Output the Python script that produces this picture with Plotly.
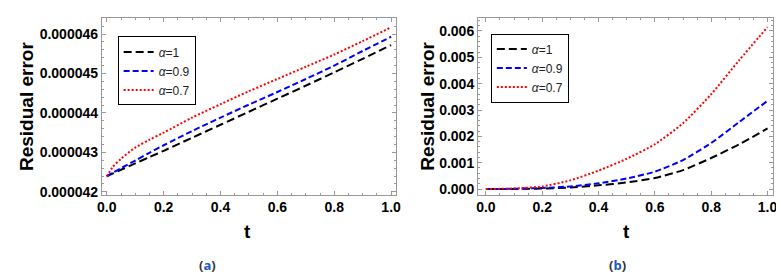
import plotly.graph_objects as go

W, H = 784, 278

# ---- data ----
t_a = [0.0, 0.02, 0.05, 0.1, 0.15, 0.2, 0.3, 0.4, 0.5, 0.6, 0.7, 0.8, 0.9, 1.0]
a_alpha1 = [42.39, 42.46, 42.56, 42.72, 42.88, 43.04, 43.37, 43.70, 44.03, 44.36, 44.69, 45.03, 45.37, 45.72]
a_alpha09 = [42.39, 42.48, 42.60, 42.79, 42.99, 43.18, 43.54, 43.88, 44.21, 44.53, 44.86, 45.20, 45.57, 45.93]
a_alpha07 = [42.39, 42.62, 42.84, 43.12, 43.32, 43.50, 43.88, 44.22, 44.55, 44.86, 45.17, 45.48, 45.82, 46.17]

t_b = [0.0, 0.1, 0.2, 0.3, 0.4, 0.5, 0.6, 0.7, 0.8, 0.9, 1.0]
b_alpha1 = [0.0, 0.005, 0.02, 0.06, 0.14, 0.25, 0.42, 0.72, 1.18, 1.70, 2.30]
b_alpha09 = [0.0, 0.01, 0.04, 0.10, 0.22, 0.40, 0.66, 1.10, 1.75, 2.55, 3.35]
b_alpha07 = [0.0, 0.02, 0.10, 0.33, 0.70, 1.15, 1.70, 2.50, 3.60, 4.90, 6.15]

legend_names = ["<i>α</i>=1", "<i>α</i>=0.9", "<i>α</i>=0.7"]
colors = ["black", "blue", "red"]
dashes = ["8px,4px", "6px,3px", "2px,2px"]
captions = ["a", "b"]

def px_x(v):
    return v / W

def px_y(v):
    return 1 - v / H

fig = go.Figure()

for vals, name, c, d in zip([a_alpha1, a_alpha09, a_alpha07], legend_names, colors, dashes):
    fig.add_trace(go.Scatter(x=t_a, y=[v * 1e-6 for v in vals], mode="lines", name=name,
                             line=dict(color=c, width=2, dash=d, shape="spline", smoothing=0.8),
                             xaxis="x", yaxis="y", legend="legend"))
for vals, name, c, d in zip([b_alpha1, b_alpha09, b_alpha07], legend_names, colors, dashes):
    fig.add_trace(go.Scatter(x=t_b, y=[v * 1e-3 for v in vals], mode="lines", name=name,
                             line=dict(color=c, width=2, dash=d, shape="spline", smoothing=0.6),
                             xaxis="x2", yaxis="y2", legend="legend2"))

tickfont = dict(family="Liberation Sans, Arial, sans-serif", size=14, color="black", weight="bold")
frame = dict(showline=True, linecolor="#999999", linewidth=1, mirror="allticks",
             ticks="inside", ticklen=4, tickcolor="#999999", showgrid=False, zeroline=False,
             tickfont=tickfont)

legfont = dict(family="Liberation Sans, Arial, sans-serif", size=12, color="#222222")

fig.update_layout(
    width=W, height=H, margin=dict(l=0, r=0, t=0, b=0),
    paper_bgcolor="white", plot_bgcolor="white",
    xaxis=dict(domain=[px_x(90), px_x(388)], range=[-0.0174, 1.0174], dtick=0.2, tick0=0,
               tickformat=".1f", anchor="y",
               minor=dict(dtick=0.05, ticks="inside", ticklen=2, tickcolor="#999999"), **frame),
    yaxis=dict(domain=[px_y(190), px_y(10)], range=[41.93e-6, 46.41e-6], dtick=1e-6, tick0=42e-6,
               tickformat=".6f", anchor="x",
               minor=dict(dtick=0.2e-6, ticks="inside", ticklen=2, tickcolor="#999999"), **frame),
    xaxis2=dict(domain=[px_x(471), px_x(770)], range=[-0.028, 1.02], dtick=0.2, tick0=0,
                tickformat=".1f", anchor="y2",
                minor=dict(dtick=0.05, ticks="inside", ticklen=2, tickcolor="#999999"), **frame),
    yaxis2=dict(domain=[px_y(190), px_y(10)], range=[-0.00021, 0.0065], dtick=0.001, tick0=0,
                tickformat=".3f", anchor="x2",
                minor=dict(dtick=0.0002, ticks="inside", ticklen=2, tickcolor="#999999"), **frame),
    legend=dict(x=px_x(106), y=px_y(29), xanchor="left", yanchor="top",
                bordercolor="black", borderwidth=1, bgcolor="white",
                font=legfont, tracegroupgap=0, itemwidth=30),
    legend2=dict(x=px_x(484), y=px_y(26), xanchor="left", yanchor="top",
                 bordercolor="black", borderwidth=1, bgcolor="white",
                 font=legfont, tracegroupgap=0, itemwidth=30),
    showlegend=True,
)

title_font = dict(family="Liberation Sans, Arial, sans-serif", size=19, color="black", weight="bold")
ann = []
for xc_ylab, xc_t, xc_cap, cap in [(13, 238, 197, captions[0]), (420, 621, 612, captions[1])]:
    ann.append(dict(text="Residual error", x=px_x(xc_ylab), y=px_y(100), xref="paper", yref="paper",
                    showarrow=False, textangle=-90, font=title_font, xanchor="center", yanchor="middle"))
    ann.append(dict(text="t", x=px_x(xc_t), y=px_y(228), xref="paper", yref="paper",
                    showarrow=False, font=title_font, xanchor="center", yanchor="middle"))
    ann.append(dict(text="(<span style='color:#1a56c4'>" + cap + "</span>)", x=px_x(xc_cap), y=px_y(262),
                    xref="paper", yref="paper", showarrow=False,
                    font=dict(family="Open Sans, sans-serif", size=13, color="#333333", weight="bold"),
                    xanchor="center", yanchor="middle"))
fig.update_layout(annotations=ann)

fig.write_html("out.html")
